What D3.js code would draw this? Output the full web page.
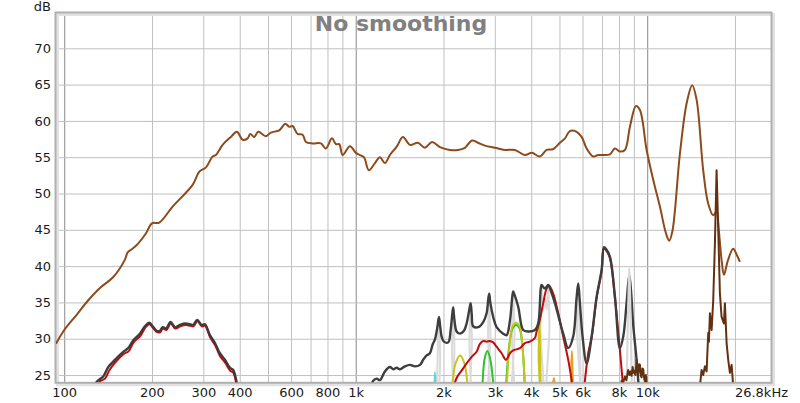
<!DOCTYPE html>
<html><head><meta charset="utf-8">
<script src="https://cdn.jsdelivr.net/npm/d3@7"></script>
<style>body{margin:0;background:#fff}svg{display:block}text{font-family:"DejaVu Sans",sans-serif}</style>
</head><body><svg id="c" width="800" height="403"></svg>
<script>
const title = "No smoothing";
const xTickVals = [100,200,300,400,600,800,1000,2000,3000,4000,5000,6000,8000,10000];
const xTickText = ["100","200","300","400","600","800","1k","2k","3k","4k","5k","6k","8k","10k"];
const xGridVals = [100,200,300,400,500,600,700,800,900,1000,2000,3000,4000,5000,6000,7000,8000,9000,10000,20000];
const xMajor = [100,1000,10000];
const yTickVals = [25,30,35,40,45,50,55,60,65,70];

const mainResp = [[93.5,29.3],[94.2,29.5],[100,31.2],[110.3,33.3],[120.9,35.3],[132.6,37],[147.3,38.5],[161.5,40.9],[165,41.9],[170,42.3],[176.2,42.8],[190.6,44.5],[200,45.9],[211.8,46],[235.4,48.2],[275.7,51.2],[290.5,53],[306.3,53.6],[322.9,55.1],[331.4,55.3],[349.4,56.7],[373.2,57.8],[391.3,58.5],[409.3,57.4],[425.8,57.6],[434.6,58.2],[448.6,57.8],[463,58.5],[491.9,57.9],[511.7,58.4],[546.5,58.7],[573,59.6],[591.5,59.2],[607.5,59.3],[632,58.2],[657.5,58.1],[674.9,57.1],[711.4,56.9],[759.6,56.9],[790.2,56.2],[828.7,57.6],[855.3,56.8],[877.9,56.8],[901.8,55.3],[955.2,56.5],[1001.6,55.6],[1033.7,55.3],[1067,55],[1109.9,53.2],[1163.8,54.2],[1210.6,55],[1259.4,54.2],[1310,55.3],[1384.4,56.5],[1451.6,57.8],[1534.5,56.7],[1635,57],[1727.9,56.3],[1826,57.1],[1945,56.4],[2105,56],[2242,56],[2369.7,56.3],[2504,57.3],[2626,57],[2775,56.6],[3002,56.3],[3250,56],[3517,56],[3805,55.3],[4022,55.6],[4284,55.1],[4518,56],[4749,56.1],[5018,57],[5221,57.6],[5430,58.6],[5725,58.5],[5956,57.8],[6198,56.2],[6528,55.1],[6790,55.3],[7447,55.4],[7750,56.2],[8059,55.8],[8385,56],[8725,59.2],[9147,62.05],[9441,61.5],[9953,56],[10486,51.9],[11055,48.2],[11600,44.5],[11900,43.5],[12200,44.8],[12950,55.5],[13652,62.4],[14270,64.9],[14775,62.9],[15565,53.2],[16194,48.6],[16845,47],[17298,47.5],[17600,45],[18000,40.8],[18330,38.8],[18920,40.8],[19725,42.4],[20310,41.5],[20797,40.6]];

const thdLow = [[127,23],[129.2,24.05],[136.1,24.8],[141.6,26.1],[149.2,27.1],[159.4,28.2],[165.8,28.7],[172.5,29.8],[181.8,30.7],[189.1,31.7],[195.7,32.2],[202,31.6],[207.5,31.1],[213,31.1],[217.6,31.6],[223.4,31.4],[231.7,32.3],[239.8,31.6],[249.4,31.9],[259.5,32.1],[269.9,32],[277,31.9],[285.9,32.6],[296,31.9],[303.8,32],[316.1,30.5],[328.9,29.4],[342,28],[355.9,27.1],[370.3,26],[380,25.7],[390.3,24],[393,23]];
const h2Low = [[130,23],[132.5,24.1],[138,24.5],[143,25.7],[150,26.8],[160,27.9],[166.5,28.3],[173,29.5],[182.5,30.4],[189.5,31.5],[196,32],[202.5,31.4],[208,30.9],[213.5,30.9],[218,31.4],[224,31.2],[232,32.1],[240.5,31.4],[250,31.7],[260,31.9],[270.5,31.8],[277.5,31.7],[286.5,32.4],[296.5,31.7],[304,31.8],[316.5,30.2],[329.5,29.1],[342.5,27.6],[356.5,26.7],[371,25.6],[380.5,25.3],[390,23.6],[392,23]];

const thdHigh = [[1120,23],[1148,24.2],[1180,24.5],[1211,24.3],[1259,25.5],[1310,26.1],[1345,25.8],[1381,26],[1418,25.8],[1475,26.2],[1535,26.4],[1597,26.2],[1661,26.4],[1704,27.1],[1751,27.7],[1797,28],[1836,29.2],[1870,29.9],[1904,31.5],[1930,33],[1950,31.6],[1971,30.3],[2007,29.6],[2077,29.5],[2117,31.2],[2145,33.5],[2160,34.3],[2178,32.8],[2219,31],[2278,30.7],[2351,31.1],[2401,32.1],[2460,34.3],[2479,34.9],[2500,33.4],[2530,31.7],[2632,31.6],[2738,32.3],[2812,33.5],[2850,35.5],[2871,36.2],[2895,35],[2962,33],[3043,31.6],[3206,30.7],[3294,30.5],[3381,32.5],[3445,35.8],[3470,36.5],[3510,36],[3610,34.4],[3755,31.2],[3906,31],[4118,31.2],[4227,32.1],[4310,36.8],[4342,37.4],[4458,36.9],[4575,37.4],[4680,36.5],[4824,34.9],[5150,30.7],[5358,28.7],[5573,30.3],[5720,35.5],[5798,37.6],[5870,35.2],[6001,30.3],[6198,26.6],[6448,30.3],[6707,35.8],[6977,39.5],[7105,42.6],[7217,42.4],[7447,41.3],[7750,35.8],[8059,28.7],[8275,30.3],[8500,35],[8678,38.8],[8800,36.6],[8950,32],[9196,27.1],[9366,23]];
const h2High = [[2140,22.5],[2219,24.6],[2308,25.6],[2401,26.6],[2499,27.5],[2598,28.2],[2668,29.3],[2738,29.7],[2812,29.6],[2887,29.7],[2962,29.5],[3043,28.9],[3167,28],[3276,27.1],[3381,28],[3470,28.4],[3659,28.7],[3805,29.4],[3959,29.6],[4118,30.1],[4174,31],[4284,32.6],[4398,34.9],[4518,36.9],[4611,37.3],[4759,36.2],[4952,33.5],[5150,30.3],[5358,27.1],[5504,24.3],[5604,22],[6015,22],[6112,24.2],[6275,28],[6448,30.2],[6707,35.6],[6977,39.3],[7105,42.4],[7217,42.2],[7447,41.1],[7750,35.6],[8059,28.5],[8200,25],[8330,22]];

const hiOrder = [[1880,18],[1912,28],[1930,33],[1948,28],[1980,18],[2105,18],[2140,29],[2160,34.3],[2180,29],[2215,18],[2415,18],[2455,30],[2479,34.9],[2503,30],[2545,18],[2800,18],[2845,31],[2871,36.2],[2898,31],[2945,18],[3380,18],[3435,31],[3470,36.5],[3505,31],[3560,18],[4240,18],[4300,32],[4342,37.4],[4400,34],[4460,35.5],[4520,34],[4575,37.4],[4620,32],[4690,18],[5650,18],[5740,32],[5798,37.6],[5856,32],[5950,18]];
const h9 = [[8450,18],[8560,30],[8640,37],[8678,39.7],[8720,37],[8800,30],[8900,18]];
const h3 = [[2130,21],[2150,24],[2200,26.6],[2283,27.7],[2360,26.6],[2413,24],[2440,21],[3270,21],[3302,24],[3370,29],[3450,31.7],[3553,32.2],[3650,31.7],[3730,29],[3805,24],[3840,21],[4200,20],[4240,28],[4267,33.5],[4290,28],[4330,20]];
const h4 = [[2700,21],[2724,24],[2770,27.3],[2830,28.3],[2890,27.3],[2962,24],[2990,21],[3250,20],[3285,24],[3350,28.5],[3450,31.4],[3553,31.9],[3650,31.4],[3740,28.5],[3795,24],[3825,20]];
const h5 = [[1850,20],[1862,23.5],[1870,25.4],[1878,23.5],[1890,20]];
const h6 = [[4700,20],[4740,23.5],[4786,24.6],[4830,23.5],[4870,20],[5440,20],[5480,25],[5516,28.3],[5550,25],[5590,20]];
const noiseA = [[8100,23],[8171,24.2],[8280,24],[8385,24.8],[8480,24.3],[8606,25.7],[8690,25],[8770,25.5],[8840,24.9],[8911,26.1],[8970,25.3],[9025,25.6],[9110,25],[9196,27.1],[9260,25.5],[9313,25.2],[9380,26.5],[9441,26.4],[9500,24.9],[9568,24.7],[9630,25.9],[9690,25.8],[9760,24.6],[9819,24.1],[9900,25],[9953,23.5]];
const noiseB = [[15166,23.5],[15370,25.7],[15565,25],[15775,26.2],[15988,25.5],[16194,30.8],[16284,29.6],[16412,33.5],[16634,31.2],[16845,35.3],[17072,43.1],[17298,53.2],[17519,45.4],[17755,36.3],[17993,33],[18330,32.1],[18474,34.9],[18725,29.4],[18965,27.1],[19220,25.3],[19480,26.4],[19725,23.5]];

const L = 56, R = 772, T = 12, B = 382.3;
const svg = d3.select("#c");
const x = d3.scaleLog().domain([93.7, 26800]).range([L, R]);
const y = d3.scaleLinear().domain([24, 75]).range([B, T]);

// grid
svg.append("g").attr("transform", `translate(0,${B})`)
  .call(d3.axisBottom(x).tickValues(xGridVals).tickSize(-(B - T)).tickFormat(""))
  .call(g => g.select(".domain").remove())
  .call(g => g.selectAll("line").attr("stroke", d => xMajor.includes(d) ? "#8a8a8a" : "#c0c0c0").attr("stroke-width", 1));
svg.append("g").attr("transform", `translate(${L},0)`)
  .call(d3.axisLeft(y).tickValues(yTickVals).tickSize(-(R - L)).tickFormat(""))
  .call(g => g.select(".domain").remove())
  .call(g => g.selectAll("line").attr("stroke", "#c0c0c0").attr("stroke-width", 1));

// title
svg.append("text").attr("x", 401).attr("y", 31).attr("text-anchor", "middle")
  .attr("font-size", 22).attr("font-weight", "bold").attr("fill", "#808080").text(title);

// frame
svg.append("rect").attr("x", L + 1.5).attr("y", T + 2.5).attr("width", R - L).attr("height", B - T)
  .attr("fill", "none").attr("stroke", "#e2e2e2").attr("stroke-width", 3);
svg.append("rect").attr("x", L - 0.5).attr("y", T + 0.5).attr("width", R - L).attr("height", B - T)
  .attr("fill", "none").attr("stroke", "#b0b0b0").attr("stroke-width", 2);

// clip
svg.append("clipPath").attr("id", "clip").append("rect").attr("x", L).attr("y", T + 1).attr("width", R - L).attr("height", B - T - 1);
const plot = svg.append("g").attr("clip-path", "url(#clip)");
const smooth = d3.line().x(d => x(d[0])).y(d => y(d[1])).curve(d3.curveCatmullRom.alpha(0.5));
const straight = d3.line().x(d => x(d[0])).y(d => y(d[1]));
function draw(data, color, w, gen) {
  plot.append("path").datum(data).attr("d", gen || smooth).attr("fill", "none")
    .attr("stroke", color).attr("stroke-width", w).attr("stroke-linejoin", "round");
}
draw(mainResp, "#8d4a1b", 2);
draw(hiOrder, "#dadada", 2);
draw(h5, "#55d6e0", 1.8);
draw(h4, "#30c030", 2);
draw(h3, "#c8c41c", 2);
draw(h6, "#e8a024", 2);
draw(h2Low, "#c00c0c", 2);
draw(h2High, "#c00c0c", 2);
draw(thdLow, "#403a3a", 2.4);
draw(thdHigh, "#3e3e3e", 2.4);
draw(h9, "#dadada", 2.2);
draw(noiseA, "#633010", 2, straight);
draw(noiseB, "#633010", 2, straight);

// axis labels
svg.append("g").attr("transform", `translate(0,${B})`)
  .call(d3.axisBottom(x).tickValues(xTickVals).tickSize(0).tickPadding(5).tickFormat((d, i) => xTickText[i]))
  .call(g => g.select(".domain").remove())
  .call(g => g.selectAll("text").attr("font-size", 13).attr("fill", "#1a1a1a").attr("font-family", "DejaVu Sans"));
svg.append("text").attr("x", 788).attr("y", 397).attr("text-anchor", "end").attr("font-size", 13).attr("fill", "#1a1a1a").text("26.8kHz");
svg.append("g").attr("transform", `translate(${L - 5},0)`)
  .call(d3.axisLeft(y).tickValues(yTickVals).tickSize(0).tickPadding(0))
  .call(g => g.select(".domain").remove())
  .call(g => g.selectAll("text").attr("font-size", 13).attr("fill", "#1a1a1a").attr("font-family", "DejaVu Sans"));
svg.append("text").attr("x", 51).attr("y", 10.5).attr("text-anchor", "end").attr("font-size", 13).attr("fill", "#1a1a1a").text("dB");
</script></body></html>
